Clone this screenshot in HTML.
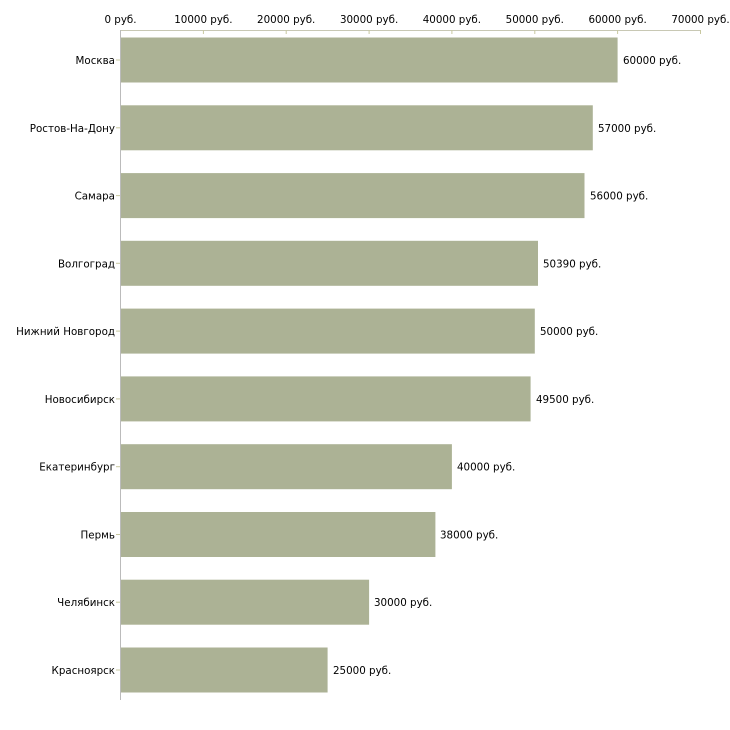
<!DOCTYPE html>
<html><head><meta charset="utf-8"><style>body{margin:0;background:#fff}svg{display:block}text{font-family:"DejaVu Sans","Liberation Sans",sans-serif;font-size:10.3px;fill:#000}</style></head>
<body>
<svg width="730" height="730" xmlns="http://www.w3.org/2000/svg">
<g id="bars" fill="#acb295">
<rect x="120.5" y="37.5" width="497.1" height="45"/>
<rect x="120.5" y="105.3" width="472.3" height="45"/>
<rect x="120.5" y="173.1" width="464" height="45"/>
<rect x="120.5" y="240.8" width="417.5" height="45"/>
<rect x="120.5" y="308.6" width="414.3" height="45"/>
<rect x="120.5" y="376.4" width="410.1" height="45"/>
<rect x="120.5" y="444.2" width="331.4" height="45"/>
<rect x="120.5" y="512" width="314.9" height="45"/>
<rect x="120.5" y="579.7" width="248.6" height="45"/>
<rect x="120.5" y="647.5" width="207.1" height="45"/>
</g>
<line x1="120.5" y1="30.5" x2="700.5" y2="30.5" stroke="#c8c8b4"/>
<line x1="120.5" y1="30" x2="120.5" y2="700" stroke="#bbb"/>
<g stroke="#c8c8a0">
<line x1="203.4" y1="30" x2="203.4" y2="34"/><line x1="286.2" y1="30" x2="286.2" y2="34"/><line x1="369.1" y1="30" x2="369.1" y2="34"/><line x1="451.9" y1="30" x2="451.9" y2="34"/><line x1="534.8" y1="30" x2="534.8" y2="34"/><line x1="617.6" y1="30" x2="617.6" y2="34"/><line x1="700.5" y1="30" x2="700.5" y2="34"/>
<line x1="116" y1="60" x2="120" y2="60"/><line x1="116" y1="127.8" x2="120" y2="127.8"/><line x1="116" y1="195.6" x2="120" y2="195.6"/><line x1="116" y1="263.3" x2="120" y2="263.3"/><line x1="116" y1="331.1" x2="120" y2="331.1"/><line x1="116" y1="398.9" x2="120" y2="398.9"/><line x1="116" y1="466.7" x2="120" y2="466.7"/><line x1="116" y1="534.5" x2="120" y2="534.5"/><line x1="116" y1="602.2" x2="120" y2="602.2"/><line x1="116" y1="670" x2="120" y2="670"/>
</g>
<g text-anchor="middle">
<text x="120.5" y="23">0 руб.</text><text x="203.4" y="23">10000 руб.</text><text x="286.2" y="23">20000 руб.</text><text x="369.1" y="23">30000 руб.</text><text x="451.9" y="23">40000 руб.</text><text x="534.8" y="23">50000 руб.</text><text x="617.6" y="23">60000 руб.</text><text x="700.5" y="23">70000 руб.</text>
</g>
<g text-anchor="end">
<text x="115" y="64">Москва</text><text x="115" y="131.8">Ростов-На-Дону</text><text x="115" y="199.6">Самара</text><text x="115" y="267.3">Волгоград</text><text x="115" y="335.1">Нижний Новгород</text><text x="115" y="402.9">Новосибирск</text><text x="115" y="470.7">Екатеринбург</text><text x="115" y="538.5">Пермь</text><text x="115" y="606.2">Челябинск</text><text x="115" y="674">Красноярск</text>
</g>
<g>
<text x="623" y="64">60000 руб.</text><text x="598" y="131.8">57000 руб.</text><text x="590" y="199.6">56000 руб.</text><text x="543" y="267.3">50390 руб.</text><text x="540" y="335.1">50000 руб.</text><text x="536" y="402.9">49500 руб.</text><text x="457" y="470.7">40000 руб.</text><text x="440" y="538.5">38000 руб.</text><text x="374" y="606.2">30000 руб.</text><text x="333" y="674">25000 руб.</text>
</g>
</svg>
</body></html>
